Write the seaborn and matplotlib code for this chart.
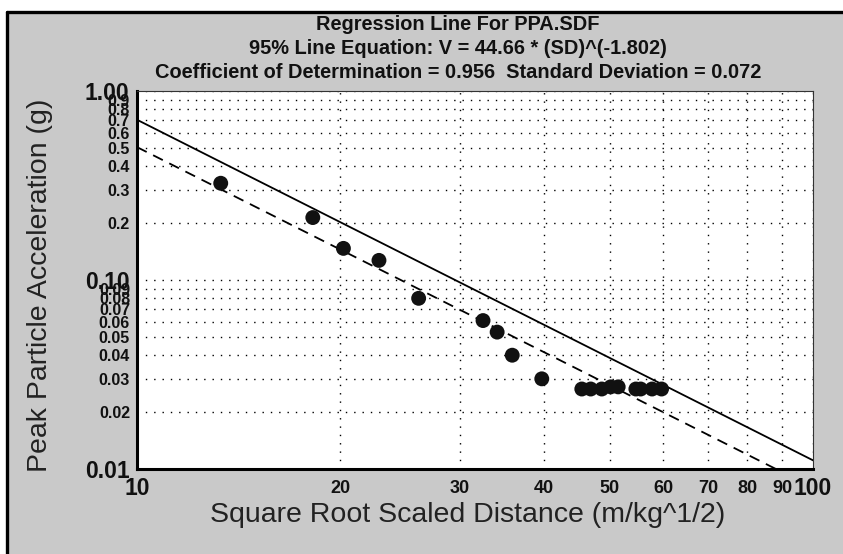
import matplotlib
matplotlib.use("Agg")
import matplotlib.pyplot as plt
from matplotlib.patches import Rectangle
from matplotlib.lines import Line2D
import seaborn as sns
import numpy as np
import pandas as pd

# Data
sd_values = [13.3, 18.2, 20.2, 22.8, 26.1, 32.5, 34.1, 35.9, 39.7,
             45.5, 46.9, 48.7, 50.2, 51.5, 54.7, 55.6, 57.8, 59.7]
ppa_values = [0.325, 0.214, 0.147, 0.127, 0.080, 0.061, 0.053, 0.040, 0.030,
              0.0265, 0.0265, 0.0265, 0.0272, 0.0272, 0.0265, 0.0265, 0.0265, 0.0265]

# regression: V = K * SD^b
fit_exp = -1.802
k_95 = 44.66
k_mean = 32.0
line_sd = [10, 100]

title_lines = [
    "Regression Line For PPA.SDF",
    "95% Line Equation: V = 44.66 * (SD)^(-1.802)",
    "Coefficient of Determination = 0.956  Standard Deviation = 0.072",
]

x_major = [10, 100]
x_major_labels = ["10", "100"]
x_minor = [20, 30, 40, 50, 60, 70, 80, 90]
x_minor_labels = ["20", "30", "40", "50", "60", "70", "80", "90"]
y_major = [0.01, 0.1, 1.0]
y_major_labels = ["0.01", "0.10", "1.00"]
y_minor = [0.02, 0.03, 0.04, 0.05, 0.06, 0.07, 0.08, 0.09,
           0.2, 0.3, 0.4, 0.5, 0.6, 0.7, 0.8, 0.9]
y_minor_labels = ["0.02", "0.03", "0.04", "0.05", "0.06", "0.07", "0.08", "0.09",
                  "0.2", "0.3", "0.4", "0.5", "0.6", "0.7", "0.8", "0.9"]

sns.set_style("white")
plt.rcParams["font.family"] = ["Liberation Sans", "DejaVu Sans"]

GRAY = "#c9c9c9"
W, H = 843, 554
fig = plt.figure(figsize=(W / 100, H / 100), dpi=100)
fig.patch.set_facecolor("white")

# gray panel with black top/left border
fig.patches.append(Rectangle((7 / W, 0), 1 - 7 / W, 1 - 12 / H, transform=fig.transFigure,
                             facecolor=GRAY, edgecolor="none", zorder=-5))
fig.lines.append(Line2D([7 / W, 1], [1 - 12 / H, 1 - 12 / H], transform=fig.transFigure,
                        color="black", linewidth=2.4))
fig.lines.append(Line2D([7 / W, 7 / W], [0, 1 - 12 / H], transform=fig.transFigure,
                        color="black", linewidth=2.4))

ax = fig.add_axes([137 / W, 1 - 469 / H, (813 - 137) / W, (469 - 91) / H])
ax.set_facecolor("white")

df = pd.DataFrame({"sd": sd_values, "ppa": ppa_values})
lines = pd.DataFrame({
    "sd": line_sd * 2,
    "ppa": [k_95 * s ** fit_exp for s in line_sd] + [k_mean * s ** fit_exp for s in line_sd],
    "fit": ["95%"] * 2 + ["mean"] * 2,
})

sns.lineplot(data=lines[lines.fit == "95%"], x="sd", y="ppa", ax=ax,
             color="black", linewidth=1.3, zorder=3)
sns.lineplot(data=lines[lines.fit == "mean"], x="sd", y="ppa", ax=ax,
             color="black", linewidth=1.3, linestyle=(0, (6, 4)), zorder=3)
sns.scatterplot(data=df, x="sd", y="ppa", ax=ax, color="#111111", s=115,
                edgecolor="none", zorder=4)

ax.set_xscale("log")
ax.set_yscale("log")
ax.set_xlim(10, 100)
ax.set_ylim(0.01, 1.0)

ax.set_xticks(x_major, x_major_labels)
ax.set_xticks(x_minor, x_minor_labels, minor=True)
ax.set_yticks(y_major, y_major_labels)
ax.set_yticks(y_minor, y_minor_labels, minor=True)

ax.tick_params(axis="both", which="major", direction="inout", length=9, width=1.2,
               color="black", labelsize=16.5)
ax.tick_params(axis="both", which="minor", direction="inout", length=6, width=1.0,
               color="black")
ax.tick_params(axis="x", which="minor", labelsize=13, pad=5)
ax.tick_params(axis="y", which="minor", labelsize=11.5, pad=2)
ax.tick_params(axis="y", which="major", pad=1)
ax.tick_params(axis="x", which="major", pad=1)
for lab in ax.get_xticklabels(which="both") + ax.get_yticklabels(which="both"):
    lab.set_fontweight("bold")
    lab.set_color("#111111")

ax.grid(True, which="both", color="black", linestyle=(0, (1, 5)), linewidth=1.0)

for side in ["left", "bottom"]:
    ax.spines[side].set_linewidth(2.2)
    ax.spines[side].set_color("black")
for side in ["top", "right"]:
    ax.spines[side].set_linewidth(0.8)
    ax.spines[side].set_color("#333333")

ax.set_xlabel("")
ax.set_ylabel("")
fig.text(468 / W, 1 - 515 / H, "Square Root Scaled Distance (m/kg^1/2)",
         ha="center", va="center", fontsize=20.5, color="#222222")
fig.text(40 / W, 1 - 285 / H, "Peak Particle Acceleration (g)", rotation=90,
         ha="center", va="center", fontsize=20.5, color="#222222")

for i, line in enumerate(title_lines):
    fig.text(458 / W, 1 - (25 + 23.5 * i) / H, line, ha="center", va="center",
             fontsize=14.4, fontweight="bold", color="#111111")

fig.savefig("out.png", dpi=100)
